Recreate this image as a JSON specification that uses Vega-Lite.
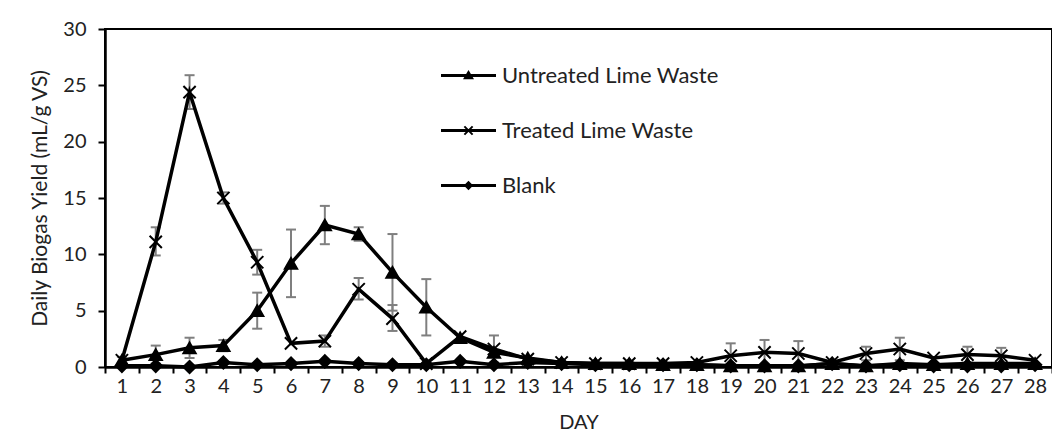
{
  "$schema": "https://vega.github.io/schema/vega-lite/v6.json",
  "width": 947,
  "height": 338,
  "autosize": {"type": "none"},
  "padding": {"left": 105, "top": 29, "right": 0, "bottom": 67},
  "background": "white",
  "config": {
    "view": {"stroke": "black", "strokeWidth": 2},
    "font": "Lato",
    "axis": {"labelFont": "Lato", "titleFont": "Lato", "labelColor": "#222", "titleColor": "#222", "grid": false, "domainColor": "black", "tickColor": "black"}
  },
  "data": {"values": [
    {"day": 1, "series": "Untreated Lime Waste", "value": 0.6},
    {"day": 2, "series": "Untreated Lime Waste", "value": 1.1, "lo": 0.3, "hi": 1.9},
    {"day": 3, "series": "Untreated Lime Waste", "value": 1.7, "lo": 0.8, "hi": 2.6},
    {"day": 4, "series": "Untreated Lime Waste", "value": 1.9, "lo": 1.4, "hi": 2.4},
    {"day": 5, "series": "Untreated Lime Waste", "value": 5.0, "lo": 3.4, "hi": 6.6},
    {"day": 6, "series": "Untreated Lime Waste", "value": 9.2, "lo": 6.2, "hi": 12.2},
    {"day": 7, "series": "Untreated Lime Waste", "value": 12.6, "lo": 10.9, "hi": 14.3},
    {"day": 8, "series": "Untreated Lime Waste", "value": 11.8, "lo": 11.2, "hi": 12.4},
    {"day": 9, "series": "Untreated Lime Waste", "value": 8.4, "lo": 5.0, "hi": 11.8},
    {"day": 10, "series": "Untreated Lime Waste", "value": 5.3, "lo": 2.8, "hi": 7.8},
    {"day": 11, "series": "Untreated Lime Waste", "value": 2.6},
    {"day": 12, "series": "Untreated Lime Waste", "value": 1.3},
    {"day": 13, "series": "Untreated Lime Waste", "value": 0.8},
    {"day": 14, "series": "Untreated Lime Waste", "value": 0.4},
    {"day": 15, "series": "Untreated Lime Waste", "value": 0.3},
    {"day": 16, "series": "Untreated Lime Waste", "value": 0.3},
    {"day": 17, "series": "Untreated Lime Waste", "value": 0.2},
    {"day": 18, "series": "Untreated Lime Waste", "value": 0.2},
    {"day": 19, "series": "Untreated Lime Waste", "value": 0.1},
    {"day": 20, "series": "Untreated Lime Waste", "value": 0.1},
    {"day": 21, "series": "Untreated Lime Waste", "value": 0.1},
    {"day": 22, "series": "Untreated Lime Waste", "value": 0.3},
    {"day": 23, "series": "Untreated Lime Waste", "value": 0.1},
    {"day": 24, "series": "Untreated Lime Waste", "value": 0.3},
    {"day": 25, "series": "Untreated Lime Waste", "value": 0.2},
    {"day": 26, "series": "Untreated Lime Waste", "value": 0.3},
    {"day": 27, "series": "Untreated Lime Waste", "value": 0.3},
    {"day": 28, "series": "Untreated Lime Waste", "value": 0.3},
    {"day": 1, "series": "Treated Lime Waste", "value": 0.6, "lo": 0.3, "hi": 0.9},
    {"day": 2, "series": "Treated Lime Waste", "value": 11.1, "lo": 9.9, "hi": 12.4},
    {"day": 3, "series": "Treated Lime Waste", "value": 24.4, "lo": 22.9, "hi": 25.9},
    {"day": 4, "series": "Treated Lime Waste", "value": 15.0, "lo": 14.5, "hi": 15.5},
    {"day": 5, "series": "Treated Lime Waste", "value": 9.3, "lo": 8.2, "hi": 10.4},
    {"day": 6, "series": "Treated Lime Waste", "value": 2.1},
    {"day": 7, "series": "Treated Lime Waste", "value": 2.3, "lo": 1.8, "hi": 2.8},
    {"day": 8, "series": "Treated Lime Waste", "value": 6.9, "lo": 6.0, "hi": 7.9},
    {"day": 9, "series": "Treated Lime Waste", "value": 4.3, "lo": 3.2, "hi": 5.5},
    {"day": 10, "series": "Treated Lime Waste", "value": 0.3},
    {"day": 11, "series": "Treated Lime Waste", "value": 2.7},
    {"day": 12, "series": "Treated Lime Waste", "value": 1.6, "lo": 0.4, "hi": 2.8},
    {"day": 13, "series": "Treated Lime Waste", "value": 0.7},
    {"day": 14, "series": "Treated Lime Waste", "value": 0.4},
    {"day": 15, "series": "Treated Lime Waste", "value": 0.3},
    {"day": 16, "series": "Treated Lime Waste", "value": 0.3},
    {"day": 17, "series": "Treated Lime Waste", "value": 0.3},
    {"day": 18, "series": "Treated Lime Waste", "value": 0.4},
    {"day": 19, "series": "Treated Lime Waste", "value": 1.0, "lo": 0.0, "hi": 2.1},
    {"day": 20, "series": "Treated Lime Waste", "value": 1.3, "lo": 0.2, "hi": 2.4},
    {"day": 21, "series": "Treated Lime Waste", "value": 1.2, "lo": 0.1, "hi": 2.3},
    {"day": 22, "series": "Treated Lime Waste", "value": 0.4},
    {"day": 23, "series": "Treated Lime Waste", "value": 1.2, "lo": 0.6, "hi": 1.8},
    {"day": 24, "series": "Treated Lime Waste", "value": 1.6, "lo": 0.6, "hi": 2.6},
    {"day": 25, "series": "Treated Lime Waste", "value": 0.8},
    {"day": 26, "series": "Treated Lime Waste", "value": 1.1, "lo": 0.4, "hi": 1.8},
    {"day": 27, "series": "Treated Lime Waste", "value": 1.0, "lo": 0.3, "hi": 1.7},
    {"day": 28, "series": "Treated Lime Waste", "value": 0.6},
    {"day": 1, "series": "Blank", "value": 0.1},
    {"day": 2, "series": "Blank", "value": 0.1},
    {"day": 3, "series": "Blank", "value": 0.0},
    {"day": 4, "series": "Blank", "value": 0.4},
    {"day": 5, "series": "Blank", "value": 0.2},
    {"day": 6, "series": "Blank", "value": 0.3},
    {"day": 7, "series": "Blank", "value": 0.5},
    {"day": 8, "series": "Blank", "value": 0.3},
    {"day": 9, "series": "Blank", "value": 0.2},
    {"day": 10, "series": "Blank", "value": 0.2},
    {"day": 11, "series": "Blank", "value": 0.5},
    {"day": 12, "series": "Blank", "value": 0.2},
    {"day": 13, "series": "Blank", "value": 0.4},
    {"day": 14, "series": "Blank", "value": 0.3},
    {"day": 15, "series": "Blank", "value": 0.2},
    {"day": 16, "series": "Blank", "value": 0.2},
    {"day": 17, "series": "Blank", "value": 0.2},
    {"day": 18, "series": "Blank", "value": 0.2},
    {"day": 19, "series": "Blank", "value": 0.1},
    {"day": 20, "series": "Blank", "value": 0.1},
    {"day": 21, "series": "Blank", "value": 0.1},
    {"day": 22, "series": "Blank", "value": 0.3},
    {"day": 23, "series": "Blank", "value": 0.1},
    {"day": 24, "series": "Blank", "value": 0.2},
    {"day": 25, "series": "Blank", "value": 0.1},
    {"day": 26, "series": "Blank", "value": 0.1},
    {"day": 27, "series": "Blank", "value": 0.1},
    {"day": 28, "series": "Blank", "value": 0.2}
  ]},
  "encoding": {
    "x": {
      "field": "day", "type": "ordinal", "sort": "ascending",
      "scale": {"paddingInner": 0, "paddingOuter": 0},
      "axis": {"title": "DAY", "labelAngle": 0, "tickBand": "extent", "tickSize": 6, "tickWidth": 2, "domainWidth": 2.5, "labelFontSize": 20, "titleFontSize": 20, "titleFontWeight": "normal", "labelPadding": 3, "titlePadding": 16, "labelOverlap": false}
    }
  },
  "resolve": {"scale": {"shape": "independent"}, "legend": {"shape": "independent"}},
  "layer": [
    {
      "transform": [{"filter": "isValid(datum.lo)"}],
      "mark": {"type": "rule", "color": "#7f7f7f", "strokeWidth": 2},
      "encoding": {
        "y": {"field": "lo", "type": "quantitative"},
        "y2": {"field": "hi"}
      }
    },
    {
      "transform": [{"filter": "isValid(datum.lo)"}],
      "mark": {"type": "tick", "color": "#7f7f7f", "size": 10, "thickness": 2, "opacity": 1},
      "encoding": {"y": {"field": "lo", "type": "quantitative"}}
    },
    {
      "transform": [{"filter": "isValid(datum.hi)"}],
      "mark": {"type": "tick", "color": "#7f7f7f", "size": 10, "thickness": 2, "opacity": 1},
      "encoding": {"y": {"field": "hi", "type": "quantitative"}}
    },
    {
      "mark": {"type": "line", "color": "black", "strokeWidth": 3.5},
      "encoding": {
        "y": {"field": "value", "type": "quantitative"},
        "detail": {"field": "series"}
      }
    },
    {
      "mark": {"type": "point", "filled": true, "fill": "black", "stroke": "black", "strokeWidth": 2, "size": 150, "opacity": 1},
      "encoding": {
        "y": {
          "field": "value", "type": "quantitative",
          "scale": {"domain": [0, 30]},
          "axis": {"title": "Daily Biogas Yield (mL/g VS)", "values": [0, 5, 10, 15, 20, 25, 30], "tickSize": 7, "tickWidth": 2, "domainWidth": 2.5, "labelFontSize": 20, "titleFontSize": 21, "titleFontWeight": "normal", "labelPadding": 12, "titlePadding": 12}
        },
        "shape": {
          "field": "series", "type": "nominal",
          "scale": {"domain": ["Untreated Lime Waste", "Treated Lime Waste", "Blank"], "range": ["triangle-up", "M-1,-1L1,1M-1,1L1,-1", "diamond"]},
          "legend": null
        }
      }
    },
    {
      "mark": {"type": "point", "filled": true, "color": "black", "fill": "black", "stroke": "black", "strokeWidth": 1.5, "opacity": 0, "size": 0},
      "encoding": {
        "y": {"field": "value", "type": "quantitative"},
        "shape": {
          "field": "series", "type": "nominal",
          "scale": {"domain": ["Untreated Lime Waste", "Treated Lime Waste", "Blank"], "range": [
            "M-1,-0.055H1V0.055H-1ZM-0.2,0.14L0,-0.2L0.2,0.14Z",
            "M-1,-0.055H1V0.055H-1ZM-0.125,-0.175L0.175,0.125L0.125,0.175L-0.175,-0.125ZM-0.175,0.125L0.125,-0.175L0.175,-0.125L-0.125,0.175Z",
            "M-1,-0.055H1V0.055H-1ZM-0.17,0L0,-0.17L0.17,0L0,0.17Z"
          ]},
          "legend": {
            "title": null, "orient": "none", "legendX": 335, "legendY": 18,
            "padding": 0, "rowPadding": 15, "symbolSize": 3025, "labelFontSize": 22, "labelFont": "Lato", "labelColor": "#222", "labelOffset": 5, "labelLimit": 500,
            "symbolFillColor": "black", "symbolStrokeColor": "black", "symbolStrokeWidth": 1.5, "symbolOpacity": 1
          }
        }
      }
    }
  ]
}
